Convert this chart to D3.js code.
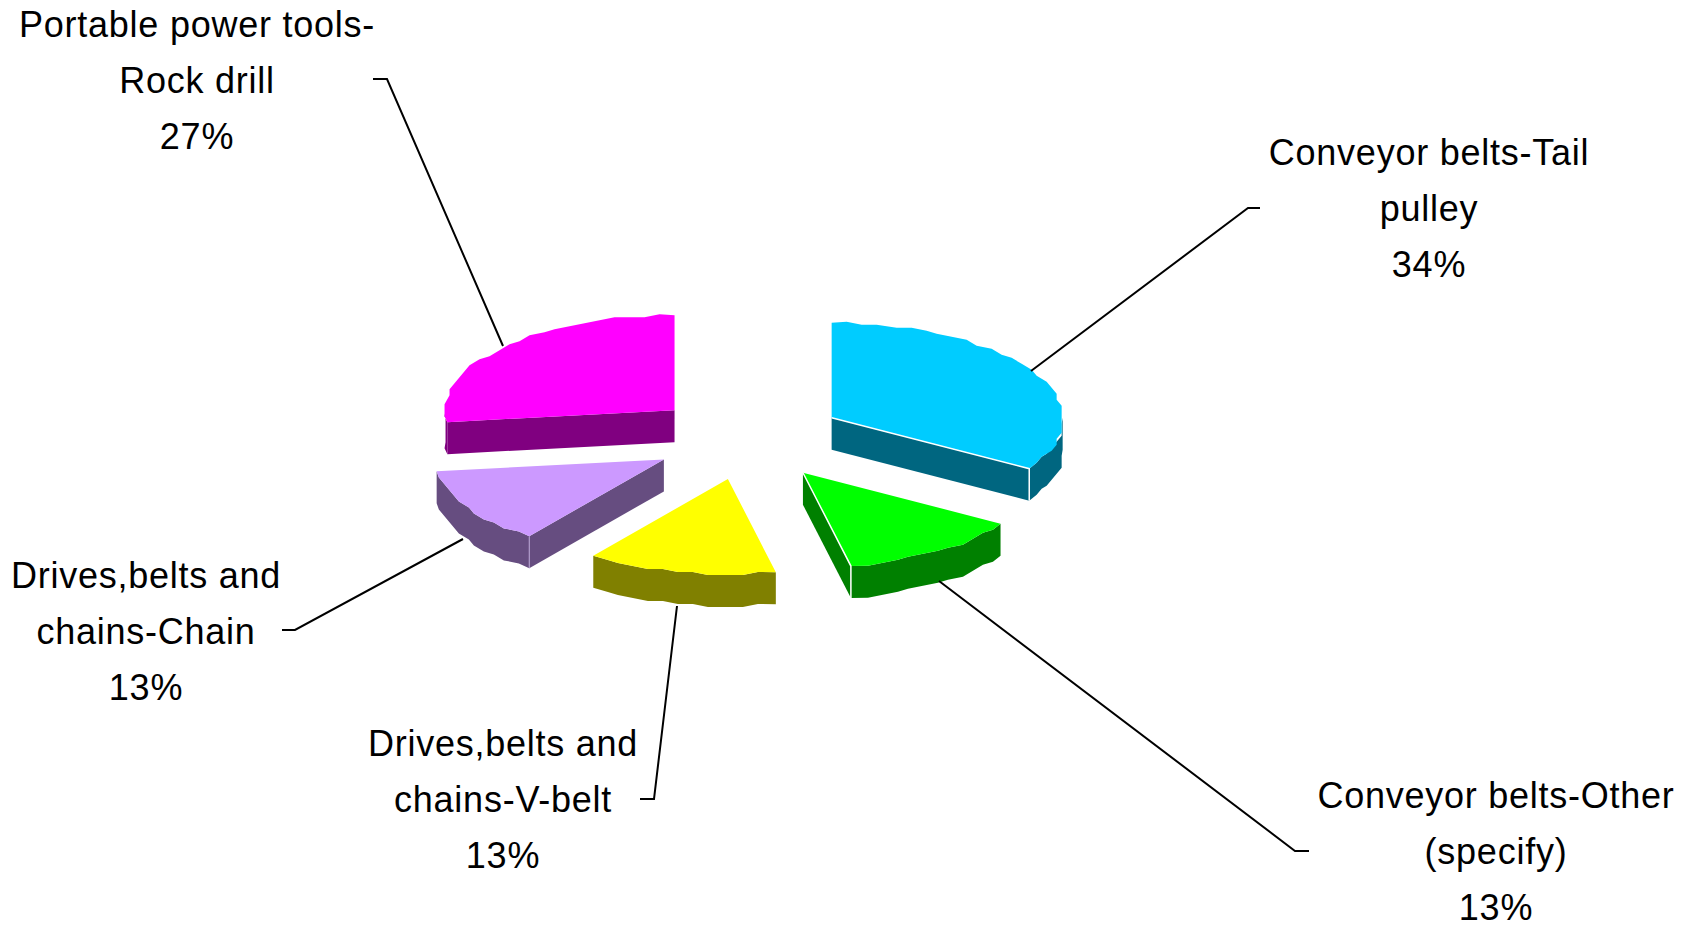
<!DOCTYPE html>
<html>
<head>
<meta charset="utf-8">
<script src="https://cdn.jsdelivr.net/npm/d3@7"></script>
<style>
html, body { margin: 0; padding: 0; background: #fff; }
svg { display: block; }
text { font-family: "Liberation Sans", Arial, sans-serif; font-size: 36px; letter-spacing: 0.75px; fill: #000; text-anchor: middle; }
</style>
</head>
<body>
<script>
const categories = ["Conveyor belts-Tail pulley", "Conveyor belts-Other (specify)", "Drives,belts and chains-V-belt", "Drives,belts and chains-Chain", "Portable power tools-Rock drill"]
const values = [34, 13, 13, 13, 27]
const labelLines = [
    ["Conveyor belts-Tail", "pulley"],
    ["Conveyor belts-Other", "(specify)"],
    ["Drives,belts and", "chains-V-belt"],
    ["Drives,belts and", "chains-Chain"],
    ["Portable power tools-", "Rock drill"]
]
const topColors = ["#00ccff", "#00ff00", "#ffff00", "#cc99ff", "#ff00ff"]
const sideColors = ["#006680", "#008000", "#808000", "#664d80", "#800080"]

// label block centre / first baseline, and the leader polyline for each slice
const labelPos = [[1429, 165], [1496, 808], [503, 756], [146, 588], [197, 37]]
const leaders = [
    [[1031, 371], [1248, 208], [1260, 208]],
    [[939, 581], [1295, 851], [1309, 851]],
    [[677, 606], [654, 799], [640, 799]],
    [[463, 539], [295, 630], [282, 630]],
    [[503, 346], [387, 79], [373, 79]]
]

const width = 1693
const height = 927
const cx = 747, cy = 438
const rxRight = 231, rxLeft = 229, ry = 95
const lean = 0.05
const depth = 32
const explodeX = 96.6, explodeY = 42
const lineGap = 56

const svg = d3.select("body").append("svg").attr("width", width).attr("height", height)

const slices = d3.pie().sort(null).value(d => d)(values)
const outline = d3.line()

// rim point, snapped to a coarse grid so it gets the stepped edge of the original
const rim = (a, snap) => {
    const s = Math.sin(a), y = -ry * Math.cos(a)
    const x = s < 0 ? rxLeft * s : rxRight * s + lean * Math.max(y, 0)
    return snap ? [Math.round(x / 5) * 5, Math.round(y / 3) * 3] : [x, y]
}
const rimPoints = (a0, a1) => {
    const n = Math.max(2, Math.ceil((a1 - a0) / 0.07))
    return d3.range(n + 1).map(i => rim(a0 + (a1 - a0) * i / n, i > 0 && i < n))
}
const down = pts => pts.slice().reverse().map(p => [p[0], p[1] + depth])

const g = svg.selectAll("g.slice").data(slices).enter().append("g")
    .attr("class", "slice")
    .attr("transform", d => {
        const mid = (d.startAngle + d.endAngle) / 2
        const nudge = Math.sin(mid) > -0.5 ? 2 * Math.max(0, -Math.cos(mid)) : 0
        return `translate(${cx + explodeX * Math.sin(mid) + nudge},${cy - explodeY * Math.cos(mid)})`
    })

// outer wall, only the part of the rim facing the viewer
g.append("path")
    .attr("fill", (d, i) => sideColors[i])
    .attr("d", d => {
        const a0 = Math.max(d.startAngle, Math.PI / 2)
        const a1 = Math.min(d.endAngle, Math.PI * 1.5)
        if (a1 <= a0) return null
        const pts = rimPoints(a0, a1)
        return outline(pts.concat(down(pts))) + "Z"
    })

// cut faces
g.append("path")
    .attr("fill", (d, i) => sideColors[i])
    .attr("d", d => {
        let a = null
        if (Math.sin(d.endAngle) > 0.01) a = d.endAngle
        else if (Math.sin(d.startAngle) < -0.01) a = d.startAngle
        if (a === null) return null
        const p = rim(a, false)
        return outline([[0, 0], p, [p[0], p[1] + depth], [0, depth]]) + "Z"
    })

// top face
g.append("path")
    .attr("fill", (d, i) => topColors[i])
    .attr("d", d => outline([[0, 0]].concat(rimPoints(d.startAngle, d.endAngle))) + "Z")

// white seam along the cut edge and down the corner
g.filter((d, i) => i < 2).append("path")
    .attr("fill", "none")
    .attr("stroke", "#fff")
    .attr("stroke-width", 1.5)
    .attr("d", d => {
        const p = rim(d.endAngle, false)
        return outline([[0, 0], p, [p[0], p[1] + depth]])
    })
g.filter((d, i) => i === 3).append("path")
    .attr("fill", "none")
    .attr("stroke", "#b9a5d6")
    .attr("d", d => {
        const p = rim(d.startAngle, false)
        return outline([p, [p[0], p[1] + depth]])
    })

// leaders
svg.selectAll("path.leader").data(leaders).enter().append("path")
    .attr("class", "leader")
    .attr("fill", "none")
    .attr("stroke", "#000")
    .attr("stroke-width", 2)
    .attr("d", d => outline(d))

// labels
const labels = svg.selectAll("text").data(categories).enter().append("text")
    .attr("transform", (d, i) => `translate(${labelPos[i][0]},${labelPos[i][1]})`)
labels.each(function(d, i) {
    const t = d3.select(this)
    labelLines[i].concat(values[i] + "%").forEach((s, k) => {
        t.append("tspan").attr("x", 0).attr("y", k * lineGap).text(s)
    })
})
</script>
</body>
</html>
